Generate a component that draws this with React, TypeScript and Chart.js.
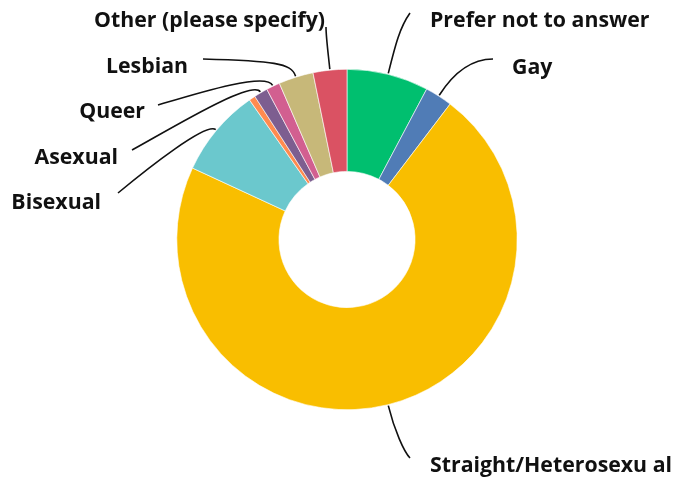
import React, { useEffect, useRef } from "react";
import { Chart, registerables } from "chart.js";

Chart.register(...registerables);

// Categories in clockwise order starting at 12 o'clock
const categories = [
  "Prefer not to answer",
  "Gay",
  "Straight/Heterosexu al",
  "Bisexual",
  "",
  "Asexual",
  "Queer",
  "Lesbian",
  "Other (please specify)",
];
// Which visible label is attached to each slice (as in the reference picture)
const sliceLabels = [
  "Prefer not to answer",
  "Gay",
  "Straight/Heterosexu al",
  "Bisexual",
  "",
  "Asexual",
  "Queer",
  "Lesbian",
  "Other (please specify)",
];
const values = [7.75, 2.6, 71.5, 8.4, 0.6, 1.3, 1.3, 3.3, 3.2];
const colors = [
  "#00BF6F",
  "#507CB6",
  "#F9BE00",
  "#6BC8CD",
  "#FF8B4F",
  "#7D5E90",
  "#D25F90",
  "#C7B879",
  "#DA5263",
];

// Label layout, offsets relative to the doughnut centre
type LabelLayout = {
  tx: number; ty: number; align: CanvasTextAlign;
  ax: number; ay: number; h1: number; h2x: number; h2y: number;
};
const layout: (LabelLayout | null)[] = [
  { tx: 83, ty: -219.5, align: "left", ax: 63, ay: -226.5, h1: 30, h2x: -10, h2y: 14 },
  { tx: 165, ty: -172.5, align: "left", ax: 146, ay: -180.5, h1: 20, h2x: -25, h2y: 0 },
  { tx: 83, ty: 225.5, align: "left", ax: 63, ay: 218.5, h1: 25, h2x: -6, h2y: -6 },
  { tx: -246, ty: -37.5, align: "right", ax: -229, ay: -46.5, h1: 12, h2x: 30, h2y: -25 },
  null,
  { tx: -229, ty: -82.5, align: "right", ax: -215, ay: -89.5, h1: 15, h2x: 40, h2y: -22 },
  { tx: -202, ty: -128.5, align: "right", ax: -189, ay: -134.5, h1: 15, h2x: 40, h2y: -12 },
  { tx: -159, ty: -173.5, align: "right", ax: -144, ay: -180.5, h1: 14, h2x: 70, h2y: 2 },
  { tx: -22, ty: -219.5, align: "right", ax: -21, ay: -212.5, h1: 15, h2x: 0, h2y: 10 },
];

const leaderPlugin = {
  id: "leaderLabels",
  afterDatasetsDraw(chart: any) {
    const ctx = chart.ctx as CanvasRenderingContext2D;
    const meta = chart.getDatasetMeta(0);
    ctx.save();
    meta.data.forEach((arc: any, i: number) => {
      const lay = layout[i];
      const text = sliceLabels[i];
      if (!lay || !text) return;
      const p = arc.getProps(["x", "y", "startAngle", "endAngle", "outerRadius"], true);
      const mid = (p.startAngle + p.endAngle) / 2;
      const cx = Math.cos(mid);
      const sy = Math.sin(mid);
      const r = p.outerRadius + 1;
      const x0 = p.x + cx * r;
      const y0 = p.y + sy * r;
      const c1x = x0 + cx * lay.h1;
      const c1y = y0 + sy * lay.h1;
      const x3 = p.x + lay.ax;
      const y3 = p.y + lay.ay;
      const c2x = x3 + lay.h2x;
      const c2y = y3 + lay.h2y;
      ctx.beginPath();
      ctx.moveTo(x0, y0);
      ctx.bezierCurveTo(c1x, c1y, c2x, c2y, x3, y3);
      ctx.strokeStyle = "#111";
      ctx.lineWidth = 1.6;
      ctx.stroke();
      ctx.font = "bold 21.3px 'Open Sans'";
      ctx.fillStyle = "#111";
      ctx.textAlign = lay.align;
      ctx.textBaseline = "middle";
      ctx.fillText(text, p.x + lay.tx, p.y + lay.ty + 0.5);
    });
    ctx.restore();
  },
};

export default function App() {
  const ref = useRef<HTMLCanvasElement | null>(null);
  useEffect(() => {
    if (!ref.current) return;
    const chart = new Chart(ref.current, {
      type: "doughnut",
      data: {
        labels: categories,
        datasets: [
          {
            data: values,
            backgroundColor: colors,
            borderColor: "#ffffff",
            borderWidth: 0.6,
          },
        ],
      },
      options: {
        animation: false,
        responsive: true,
        maintainAspectRatio: false,
        cutout: "40%",
        layout: { padding: { top: 69, bottom: 69, left: 19, right: 0 } },
        plugins: {
          legend: { display: false },
          tooltip: { enabled: false },
        },
      },
      plugins: [leaderPlugin],
    });
    return () => chart.destroy();
  }, []);
  return (
    <div style={{ position: "fixed", left: 0, top: 0, width: 675, height: 479, background: "#fff" }}>
      <canvas ref={ref} />
    </div>
  );
}
